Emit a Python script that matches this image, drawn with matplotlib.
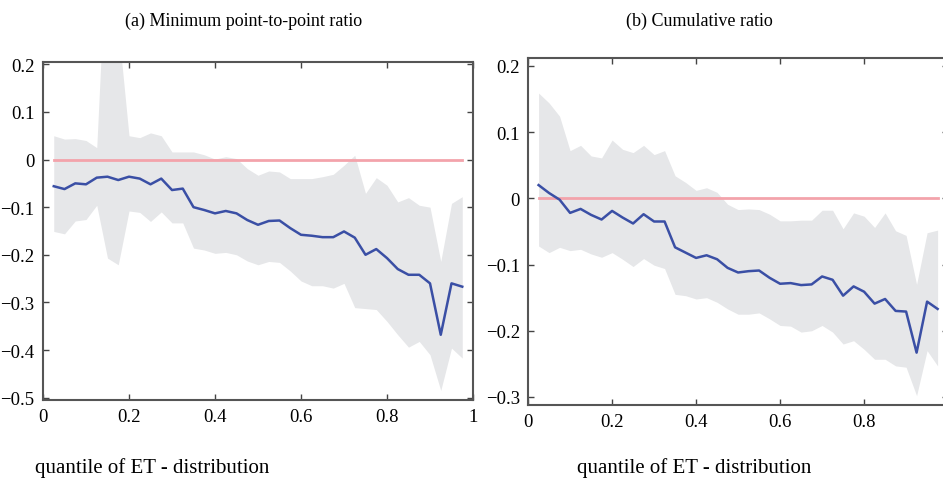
import matplotlib
matplotlib.use("Agg")
import matplotlib.pyplot as plt
import matplotlib.ticker as ticker
import numpy as np

plt.rcParams['font.family'] = ['Liberation Serif', 'DejaVu Serif']

# quantiles of the ET distribution
q = np.arange(1, 40) * 0.025

# (a) minimum point-to-point ratio
est_a = [-0.056, -0.062, -0.050, -0.052, -0.038, -0.036, -0.043, -0.036, -0.040, -0.052,
         -0.040, -0.064, -0.061, -0.100, -0.106, -0.113, -0.108, -0.113, -0.127, -0.137,
         -0.129, -0.128, -0.144, -0.158, -0.160, -0.163, -0.163, -0.151, -0.164, -0.200,
         -0.188, -0.207, -0.230, -0.242, -0.242, -0.260, -0.368, -0.260, -0.267]
hi_a = [0.050, 0.043, 0.044, 0.040, 0.025, 0.500, 0.280, 0.050, 0.046, 0.056,
        0.050, 0.016, 0.016, 0.016, 0.010, 0.001, 0.006, 0.002, -0.019, -0.033,
        -0.024, -0.026, -0.040, -0.040, -0.040, -0.036, -0.031, -0.012, 0.009, -0.071,
        -0.038, -0.054, -0.089, -0.080, -0.096, -0.100, -0.214, -0.092, -0.078]
lo_a = [-0.151, -0.156, -0.129, -0.126, -0.096, -0.207, -0.221, -0.108, -0.111, -0.130,
        -0.110, -0.133, -0.133, -0.186, -0.190, -0.197, -0.195, -0.200, -0.213, -0.221,
        -0.214, -0.216, -0.234, -0.255, -0.265, -0.265, -0.270, -0.260, -0.311, -0.313,
        -0.315, -0.340, -0.368, -0.394, -0.382, -0.410, -0.485, -0.396, -0.417]

# (b) cumulative ratio
est_b = [0.020, 0.008, -0.002, -0.022, -0.016, -0.025, -0.032, -0.019, -0.029, -0.038,
         -0.024, -0.035, -0.035, -0.074, -0.082, -0.090, -0.086, -0.092, -0.105, -0.112,
         -0.110, -0.109, -0.120, -0.129, -0.128, -0.131, -0.130, -0.118, -0.123, -0.147,
         -0.133, -0.141, -0.159, -0.152, -0.170, -0.171, -0.233, -0.156, -0.167]
hi_b = [0.159, 0.144, 0.124, 0.072, 0.080, 0.064, 0.061, 0.088, 0.074, 0.069,
        0.080, 0.066, 0.072, 0.034, 0.024, 0.012, 0.016, 0.009, -0.009, -0.017,
        -0.016, -0.017, -0.024, -0.034, -0.034, -0.033, -0.033, -0.018, -0.018, -0.046,
        -0.022, -0.027, -0.044, -0.022, -0.049, -0.056, -0.130, -0.052, -0.048]
lo_b = [-0.072, -0.082, -0.074, -0.079, -0.077, -0.084, -0.089, -0.082, -0.092, -0.103,
        -0.091, -0.101, -0.106, -0.145, -0.147, -0.152, -0.150, -0.157, -0.167, -0.175,
        -0.175, -0.173, -0.182, -0.192, -0.193, -0.202, -0.200, -0.192, -0.202, -0.220,
        -0.215, -0.228, -0.243, -0.243, -0.253, -0.255, -0.298, -0.230, -0.253]

titles = ["(a) Minimum point-to-point ratio", "(b) Cumulative ratio"]
xlabel = "quantile of ET - distribution"
yticks_a = [-0.5, -0.4, -0.3, -0.2, -0.1, 0, 0.1, 0.2]
yticks_b = [-0.3, -0.2, -0.1, 0, 0.1, 0.2]
xticks_a = [0, 0.2, 0.4, 0.6, 0.8, 1]
xticks_b = [0, 0.2, 0.4, 0.6, 0.8]   # the "1" falls past the right edge

fig = plt.figure(figsize=(9.43, 4.85), dpi=100)
ax1 = fig.add_axes([0.0456, 0.1732, 0.456, 0.697])
ax2 = fig.add_axes([0.560, 0.163, 0.4454, 0.7155])

panels = [(ax1, est_a, hi_a, lo_a, xticks_a, yticks_a, (-0.505, 0.205)),
          (ax2, est_b, hi_b, lo_b, xticks_b, yticks_b, (-0.312, 0.212))]

for ax, est, hi, lo, xt, yt, yl in panels:
    ax.fill_between(q, lo, hi, color='#e6e7e9', linewidth=0)
    ax.plot(q, np.zeros_like(q), color='#f3a3ab', linewidth=2)
    ax.plot(q, est, color='#3a4fa5', linewidth=1.8)
    ax.set_xlim(0, 1)
    ax.set_ylim(*yl)
    ax.set_xticks(xt)
    ax.set_yticks(yt)
    ax.xaxis.set_major_formatter(ticker.FuncFormatter(lambda v, p: "%g" % v))
    ax.yaxis.set_major_formatter(ticker.FuncFormatter(
        lambda v, p: ("%g" % v).replace("-", "\u2212")))
    ax.tick_params(direction='in', top=True, right=True, length=4, width=1,
                   color='#444444', labelsize=13.5, pad=6)
    for s in ax.spines.values():
        s.set_color('#555555')
        s.set_linewidth(1.5)

fig.text(0.258, 0.955, titles[0], ha='center', va='center', fontsize=13)
fig.text(0.742, 0.955, titles[1], ha='center', va='center', fontsize=13)
fig.text(0.037, 0.035, xlabel, ha='left', va='center', fontsize=15)
fig.text(0.612, 0.035, xlabel, ha='left', va='center', fontsize=15)

fig.savefig("out.png", dpi=100)
